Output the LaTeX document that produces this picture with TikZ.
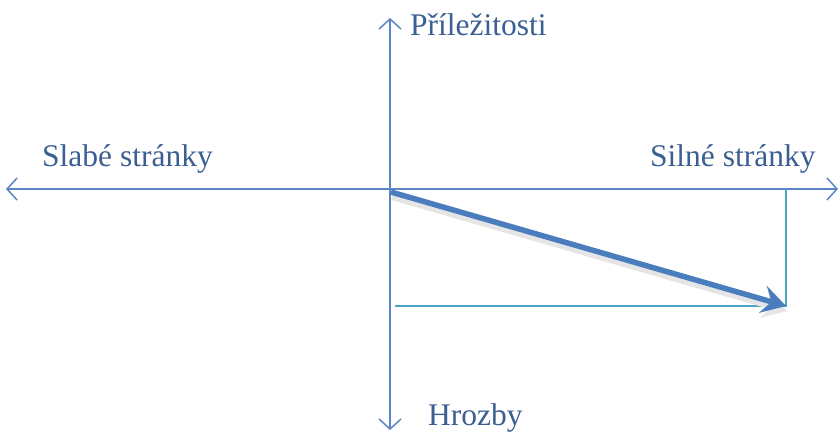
\documentclass[tikz,border=0pt]{standalone}
\usepackage{fontspec}
\setmainfont{Liberation Serif}
\usepackage{xcolor}
\usetikzlibrary{arrows.meta,positioning}

\definecolor{axisblue}{HTML}{5B86C2}
\definecolor{textblue}{HTML}{3B5F92}
\definecolor{tealline}{HTML}{4BA3C8}
\definecolor{vecblue}{HTML}{4A7DBE}

\begin{document}
\begin{tikzpicture}[
    x=1pt, y=-1pt,
    axis/.style={
        draw=axisblue,
        line width=1.5pt,
        -{Straight Barb[length=10pt,width=22pt,line width=1.5pt]}
    },
    frameline/.style={
        draw=tealline,
        line width=1.3pt
    },
    vector/.style={
        draw=vecblue,
        line width=5.5pt,
        -{Stealth[length=24pt,width=28pt,inset=9pt]}
    },
    axislabel/.style={
        text=textblue,
        font=\fontsize{31.5}{36}\selectfont,
        inner sep=0pt,
        anchor=base west
    }
]

\useasboundingbox (0,0) rectangle (840,434);

% Axes
\coordinate (origin) at (390,189);
\coordinate (left) at (6,189);
\coordinate (right) at (838,189);
\coordinate (top) at (390,18);
\coordinate (bottom) at (390,430);

\draw[axis] (origin) -- (left);
\draw[axis] (origin) -- (right);
\draw[axis] (origin) -- (top);
\draw[axis] (origin) -- (bottom);

% Labels
\node[axislabel] (opp) at (410,35) {Příležitosti};
\node[axislabel] (weak) at (42,166) {Slabé stránky};
\node[axislabel] (strong) at (650,166) {Silné stránky};
\node[axislabel] (threat) at (428,425) {Hrozby};

% Projection lines
\coordinate (corner) at (786,306);
\coordinate (xfoot) at (786,189);
\coordinate (yfoot) at (395,306);

\draw[frameline] (xfoot) -- (corner) -- (yfoot);

% Resulting vector
\coordinate (start) at (391,192);
\draw[vector, draw=black!10, line width=6pt] ([shift={(1,5)}]start) -- ([shift={(1,5)}]corner);
\draw[vector] (start) -- (corner);

\end{tikzpicture}
\end{document}
